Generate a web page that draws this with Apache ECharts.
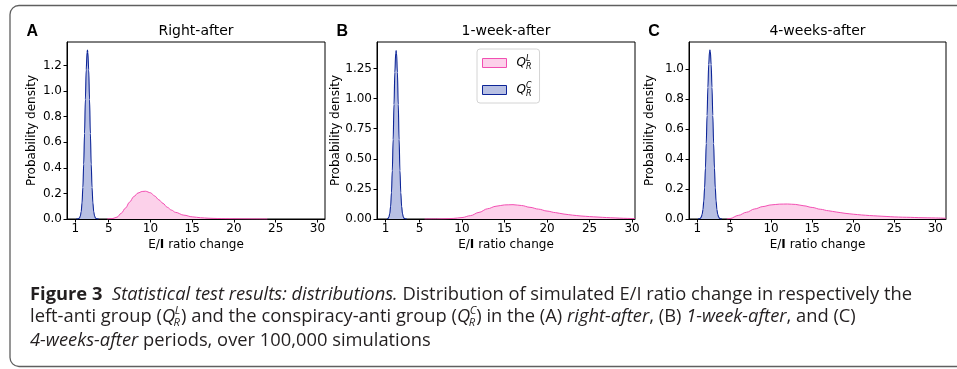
<!DOCTYPE html>
<html>
<head>
<meta charset="utf-8">
<script src="https://cdn.jsdelivr.net/npm/echarts/dist/echarts.min.js"></script>
<style>
  html, body { margin: 0; padding: 0; background: #fff; }
  #chart { width: 957px; height: 369px; }
</style>
</head>
<body>
<div id="chart"></div>
<script>
// ---------- data ----------
const panelTitles = ['Right-after', '1-week-after', '4-weeks-after'];
const panelLetters = ['A', 'B', 'C'];
const xTicks = [1, 5, 10, 15, 20, 25, 30];
const yTicksA = [0, 0.2, 0.4, 0.6, 0.8, 1.0, 1.2];
const yTicksB = [0, 0.25, 0.5, 0.75, 1.0, 1.25];
const yTicksC = [0, 0.2, 0.4, 0.6, 0.8, 1.0];
const xMax = [30.9, 30.35, 31.3];
const yMax = [1.383, 1.47, 1.18];

// Panel A (right-after)
const blueA_x = [1.1, 1.2, 1.3, 1.4, 1.5, 1.6, 1.7, 1.8, 1.9, 2.0, 2.1, 2.2, 2.3, 2.4, 2.45, 2.5, 2.6, 2.7, 2.8, 2.9, 3.0, 3.1, 3.2, 3.3, 3.4, 3.5, 3.6, 3.8];
const blueA_y = [0, 0.0002, 0.001, 0.003, 0.009, 0.024, 0.058, 0.126, 0.246, 0.429, 0.668, 0.933, 1.165, 1.301, 1.32, 1.301, 1.165, 0.933, 0.668, 0.429, 0.246, 0.126, 0.058, 0.024, 0.009, 0.003, 0.001, 0];
const pinkA_x = [4.8, 5.5, 6, 6.5, 7, 7.5, 8, 8.5, 9, 9.4, 10, 10.5, 11, 11.5, 12, 12.5, 13, 14, 15, 16, 17, 18, 19, 20, 22, 24];
const pinkA_y = [0, 0.004, 0.015, 0.045, 0.085, 0.132, 0.175, 0.203, 0.215, 0.217, 0.205, 0.180, 0.150, 0.122, 0.092, 0.070, 0.052, 0.030, 0.017, 0.010, 0.006, 0.004, 0.003, 0.002, 0.001, 0];

// Panel B (1-week-after)
const blueB_x = [1.2, 1.3, 1.4, 1.5, 1.6, 1.7, 1.8, 1.9, 2.0, 2.1, 2.2, 2.25, 2.3, 2.4, 2.5, 2.6, 2.7, 2.8, 2.9, 3.0, 3.1, 3.2, 3.3, 3.5];
const blueB_y = [0.002, 0.005, 0.016, 0.044, 0.104, 0.218, 0.402, 0.659, 0.952, 1.219, 1.379, 1.40, 1.379, 1.219, 0.952, 0.659, 0.402, 0.218, 0.104, 0.044, 0.016, 0.005, 0.002, 0];
const pinkB_x = [5.6, 7, 8, 9, 10, 11, 12, 13, 14, 15, 16, 17, 18, 19, 20, 21, 22, 23, 24, 25, 26, 27, 28, 29, 30, 30.35];
const pinkB_y = [0, 0.001, 0.002, 0.005, 0.012, 0.028, 0.055, 0.085, 0.106, 0.117, 0.119, 0.112, 0.097, 0.082, 0.066, 0.053, 0.041, 0.032, 0.025, 0.020, 0.016, 0.012, 0.009, 0.006, 0.004, 0.003];

// Panel C (4-weeks-after)
const blueC_x = [1.1, 1.2, 1.3, 1.4, 1.5, 1.6, 1.7, 1.8, 1.9, 2.0, 2.1, 2.2, 2.3, 2.4, 2.5, 2.55, 2.6, 2.7, 2.8, 2.9, 3.0, 3.1, 3.2, 3.3, 3.4, 3.5, 3.6, 3.7, 3.8, 3.9, 4.0];
const blueC_y = [0, 0.001, 0.002, 0.006, 0.014, 0.031, 0.063, 0.120, 0.208, 0.339, 0.503, 0.690, 0.878, 1.030, 1.116, 1.127, 1.116, 1.030, 0.878, 0.690, 0.503, 0.339, 0.208, 0.120, 0.063, 0.031, 0.014, 0.006, 0.002, 0.001, 0];
const pinkC_x = [4.6, 5, 6, 7, 8, 9, 10, 11, 12, 13, 14, 15, 16, 17, 18, 19, 20, 21, 22, 23, 24, 25, 26, 27, 28, 29, 30, 31.3];
const pinkC_y = [0, 0.003, 0.024, 0.045, 0.067, 0.083, 0.094, 0.099, 0.100, 0.097, 0.088, 0.077, 0.065, 0.055, 0.046, 0.038, 0.032, 0.027, 0.023, 0.020, 0.017, 0.014, 0.012, 0.011, 0.009, 0.008, 0.007, 0.005];

const seriesNames = ['QL', 'QC'];

// ---------- styles ----------
const PINK_LINE = '#f24fb2';
const PINK_FILL = '#fcd1ea';
const BLUE_LINE = '#0d2597';
const BLUE_FILL = '#b8c0e3';
const MPL_FONT = '"DejaVu Sans", sans-serif';
const CAP_FONT = '"Open Sans", sans-serif';

const zip = (xs, ys) => xs.map((x, i) => [x, ys[i]]);

const grids = [
  { left: 67, top: 42, width: 258, height: 177 },
  { left: 377, top: 42, width: 258, height: 177 },
  { left: 689, top: 42, width: 257, height: 177 }
];
const yTicks = [yTicksA, yTicksB, yTicksC];
const yDecimals = [1, 2, 1];
const yNameGap = [29, 35, 33];

const chart = echarts.init(document.getElementById('chart'), null, { renderer: 'canvas' });

const option = {
  animation: false,
  backgroundColor: '#fff',
  grid: grids.map(g => Object.assign({ show: true, borderColor: '#000', borderWidth: 1, containLabel: false }, g)),
  xAxis: grids.map((g, i) => ({
    type: 'value', gridIndex: i, min: 0, max: xMax[i],
    name: '{n|E/}{b|I}{n| ratio change}', nameLocation: 'middle', nameGap: 20,
    nameTextStyle: { rich: {
      n: { fontFamily: MPL_FONT, fontSize: 12, color: '#000' },
      b: { fontFamily: MPL_FONT, fontSize: 12, color: '#000', fontWeight: 'bold' }
    } },
    axisLine: { show: true, lineStyle: { color: '#000', width: 1 } },
    axisTick: { show: true, length: 3.5, lineStyle: { color: '#000' }, customValues: xTicks },
    axisLabel: { show: true, margin: 4, fontFamily: MPL_FONT, fontSize: 12, color: '#000', customValues: xTicks },
    splitLine: { show: false }
  })),
  yAxis: grids.map((g, i) => ({
    type: 'value', gridIndex: i, min: 0, max: yMax[i],
    name: 'Probability density', nameLocation: 'middle', nameGap: yNameGap[i],
    nameTextStyle: { fontFamily: MPL_FONT, fontSize: 12, color: '#000' },
    axisLine: { show: true, lineStyle: { color: '#000', width: 1 } },
    axisTick: { show: true, length: 3.5, lineStyle: { color: '#000' }, customValues: yTicks[i] },
    axisLabel: { show: true, margin: 5, fontFamily: MPL_FONT, fontSize: 12, color: '#000',
      customValues: yTicks[i], formatter: v => Number(v).toFixed(yDecimals[i]) },
    splitLine: { show: false }
  })),
  legend: {
    left: 477, top: 49, orient: 'vertical',
    padding: [6, 8, 5, 5], itemGap: 11, itemWidth: 24, itemHeight: 9,
    borderColor: '#d4d4d4', borderWidth: 1, borderRadius: 3, backgroundColor: '#fff',
    icon: 'rect',
    data: [
      { name: 'QL', icon: 'rect', itemStyle: { color: PINK_FILL, borderColor: PINK_LINE, borderWidth: 1 } },
      { name: 'QC', icon: 'rect', itemStyle: { color: BLUE_FILL, borderColor: BLUE_LINE, borderWidth: 1 } }
    ],
    formatter: name => name === 'QL' ? '{q|Q}{sup|L}{sub|R}' : '{q|Q}{sup|C}{sub|R}',
    textStyle: {
      padding: [0, 0, 0, 5],
      rich: {
        q: { fontFamily: MPL_FONT, fontStyle: 'italic', fontSize: 12, color: '#000', lineHeight: 16, verticalAlign: 'middle' },
        sup: { fontFamily: MPL_FONT, fontStyle: 'italic', fontSize: 8, color: '#000', lineHeight: 7, verticalAlign: 'top', width: 0 },
        sub: { fontFamily: MPL_FONT, fontStyle: 'italic', fontSize: 8, color: '#000', lineHeight: 6, verticalAlign: 'bottom' }
      }
    }
  },
  series: []
};

const pinkSets = [[pinkA_x, pinkA_y], [pinkB_x, pinkB_y], [pinkC_x, pinkC_y]];
const blueSets = [[blueA_x, blueA_y], [blueB_x, blueB_y], [blueC_x, blueC_y]];
for (let i = 0; i < 3; i++) {
  option.series.push({
    name: seriesNames[0], type: 'line', xAxisIndex: i, yAxisIndex: i,
    data: zip(pinkSets[i][0], pinkSets[i][1]), smooth: 0.35, smoothMonotone: 'x',
    showSymbol: false, symbol: 'none',
    lineStyle: { color: PINK_LINE, width: 1 }, itemStyle: { color: PINK_FILL, borderColor: PINK_LINE },
    areaStyle: { color: PINK_FILL, opacity: 1 }, z: 2
  });
  option.series.push({
    name: seriesNames[1], type: 'line', xAxisIndex: i, yAxisIndex: i,
    data: zip(blueSets[i][0], blueSets[i][1]), smooth: 0.35, smoothMonotone: 'x',
    showSymbol: false, symbol: 'none',
    lineStyle: { color: BLUE_LINE, width: 1.1 }, itemStyle: { color: BLUE_FILL, borderColor: BLUE_LINE },
    areaStyle: { color: BLUE_FILL, opacity: 1 }, z: 3
  });
}

// ---------- graphic: frame, panel titles, letters, caption ----------
const graphics = [];
graphics.push({
  type: 'rect', left: null, x: 10, y: 5.5, silent: true,
  shape: { x: 0, y: 0, width: 1000, height: 361, r: 9 },
  style: { fill: 'none', stroke: '#5f5f5f', lineWidth: 1.3 }
});
grids.forEach((g, i) => {
  graphics.push({
    type: 'text', x: g.left + g.width / 2, y: 31.5, silent: true,
    style: { text: panelTitles[i], font: '14px ' + MPL_FONT, fill: '#000', textAlign: 'center', textVerticalAlign: 'middle', verticalAlign: 'middle' }
  });
});
const letterX = [26.5, 336.5, 648.3];
panelLetters.forEach((l, i) => {
  graphics.push({
    type: 'text', x: letterX[i], y: 31.3, silent: true,
    style: { text: l, font: 'bold 16px "Liberation Sans", Arial, sans-serif', fill: '#000', textAlign: 'left', textVerticalAlign: 'middle', verticalAlign: 'middle' }
  });
});

// caption built from measured segments
const mctx = document.createElement('canvas').getContext('2d');
function fontStr(seg, size) {
  return (seg.i ? 'italic ' : '') + (seg.b ? 'bold ' : '') + size + 'px ' + CAP_FONT;
}
function tw(text, font) { mctx.font = font; return mctx.measureText(text).width; }
const CAP_SIZE = 18, SUP_SIZE = 11;
const captionLines = [
  [{ t: 'Figure 3', b: true }, { t: '  ' }, { t: 'Statistical test results: distributions.', i: true }, { t: ' Distribution of simulated E/I ratio change in respectively the' }],
  [{ t: 'left-anti group (' }, { q: 'L' }, { t: ') and the conspiracy-anti group (' }, { q: 'C' }, { t: ') in the (A) ' }, { t: 'right-after', i: true }, { t: ', (B) ' }, { t: '1-week-after', i: true }, { t: ', and (C)' }],
  [{ t: '4-weeks-after', i: true }, { t: ' periods, over 100,000 simulations' }]
];
const captionY = [295, 317, 341];
const CAP_COLOR = '#231f20';
const capChildren = [];
let line1Width = 0;
captionLines.forEach((segs, li) => {
  let cx = 0;
  const y = captionY[li];
  segs.forEach(seg => {
    if (seg.q) {
      const fq = fontStr({ i: true }, CAP_SIZE);
      const wq = tw('Q', fq);
      capChildren.push({ type: 'text', x: cx, y: y, style: { text: 'Q', font: fq, fill: CAP_COLOR, textVerticalAlign: 'middle', verticalAlign: 'middle' } });
      const fs = fontStr({ i: true }, SUP_SIZE);
      const sx = cx + wq - 1.5;
      capChildren.push({ type: 'text', x: sx + 1, y: y - 6.5, style: { text: seg.q, font: fs, fill: CAP_COLOR, textVerticalAlign: 'middle', verticalAlign: 'middle' } });
      capChildren.push({ type: 'text', x: sx, y: y + 5.5, style: { text: 'R', font: fs, fill: CAP_COLOR, textVerticalAlign: 'middle', verticalAlign: 'middle' } });
      cx += wq + Math.max(tw(seg.q, fs), tw('R', fs)) - 0.5;
    } else {
      const f = fontStr(seg, CAP_SIZE);
      capChildren.push({ type: 'text', x: cx, y: y, style: { text: seg.t, font: f, fill: CAP_COLOR, textVerticalAlign: 'middle', verticalAlign: 'middle' } });
      cx += tw(seg.t, f);
    }
  });
  if (li === 0) line1Width = cx;
});
const CAP_LEFT = 30, CAP_RIGHT = 912;
const capScale = (CAP_RIGHT - CAP_LEFT) / line1Width;
graphics.push({ type: 'group', x: CAP_LEFT, y: 0, scaleX: capScale, scaleY: 1, silent: true, children: capChildren });

option.graphic = graphics;
chart.setOption(option);
</script>
</body>
</html>
